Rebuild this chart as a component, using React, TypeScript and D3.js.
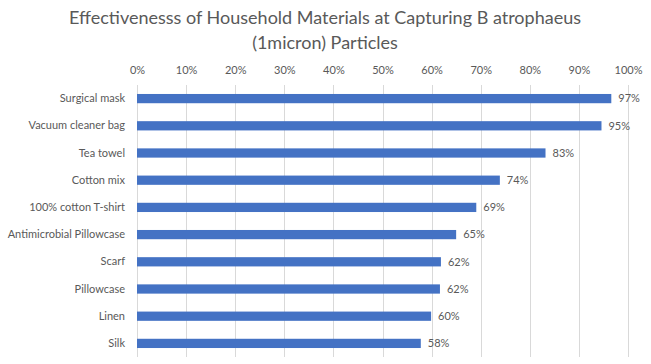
import { useEffect, useRef } from 'react';
import * as d3 from 'd3';

// Chart data (percent captured)
const materials = [
    'Surgical mask',
    'Vacuum cleaner bag',
    'Tea towel',
    'Cotton mix',
    '100% cotton T-shirt',
    'Antimicrobial Pillowcase',
    'Scarf',
    'Pillowcase',
    'Linen',
    'Silk',
];
const effectiveness = [96.6, 94.6, 83.2, 73.9, 69.1, 65.0, 61.9, 61.7, 59.9, 57.8];
const tickValues = [0, 10, 20, 30, 40, 50, 60, 70, 80, 90, 100];
const titleLines = [
    'Effectivenesss of Household Materials at Capturing B atrophaeus',
    '(1micron) Particles',
];

const WIDTH = 651;
const HEIGHT = 364;
const FONT = 'Lato, "Noto Sans", sans-serif';

interface Row {
    name: string;
    value: number;
}

export default function App() {
    const ref = useRef<HTMLDivElement>(null);

    useEffect(() => {
        if (!ref.current) return;
        ref.current.innerHTML = '';

        const data: Row[] = materials.map((name, i) => ({ name, value: effectiveness[i] }));

        const margin = { top: 85, right: 23, bottom: 7, left: 137 };

        const x = d3.scaleLinear()
            .domain([0, 100])
            .range([margin.left, WIDTH - margin.right]);

        const y = d3.scaleBand<string>()
            .domain(materials)
            .range([margin.top, HEIGHT - margin.bottom])
            .paddingInner(0.66)
            .paddingOuter(0.33);

        const svg = d3.create('svg')
            .attr('width', WIDTH)
            .attr('height', HEIGHT)
            .attr('viewBox', `0 0 ${WIDTH} ${HEIGHT}`)
            .style('display', 'block')
            .style('background', '#fff')
            .style('font-family', FONT);

        // Title
        svg.append('g')
            .attr('fill', '#595959')
            .attr('text-anchor', 'middle')
            .style('font-size', '18px')
            .selectAll('text')
            .data(titleLines)
            .join('text')
            .attr('x', 325)
            .attr('y', (_, i) => 24 + i * 25)
            .text(d => d);

        // Gridlines
        svg.append('g')
            .attr('stroke', '#d9d9d9')
            .attr('stroke-width', 1)
            .selectAll('line')
            .data(tickValues)
            .join('line')
            .attr('x1', d => Math.round(x(d)) + 0.5)
            .attr('x2', d => Math.round(x(d)) + 0.5)
            .attr('y1', margin.top)
            .attr('y2', HEIGHT - margin.bottom);

        // Top axis tick labels
        const axis = svg.append('g')
            .attr('transform', `translate(0,${margin.top})`)
            .call(d3.axisTop(x).tickValues(tickValues).tickSize(0).tickPadding(11)
                .tickFormat(d => `${d}%`));
        axis.select('.domain').remove();
        axis.selectAll('text')
            .attr('fill', '#595959')
            .style('font-size', '11px')
            .style('font-family', FONT);

        // Category labels
        const yAxis = svg.append('g')
            .attr('transform', `translate(${margin.left},0)`)
            .call(d3.axisLeft(y).tickSize(0).tickPadding(12));
        yAxis.select('.domain').remove();
        yAxis.selectAll('text')
            .attr('fill', '#595959')
            .style('font-size', '11px')
            .style('font-family', FONT);

        // Bars
        svg.append('g')
            .attr('fill', '#4472C4')
            .selectAll('rect')
            .data(data)
            .join('rect')
            .attr('x', x(0))
            .attr('y', d => y(d.name)!)
            .attr('width', d => x(d.value) - x(0))
            .attr('height', y.bandwidth());

        // Value labels
        svg.append('g')
            .attr('fill', '#595959')
            .style('font-size', '11px')
            .selectAll('text')
            .data(data)
            .join('text')
            .attr('x', d => x(d.value) + 7)
            .attr('y', d => y(d.name)! + y.bandwidth() / 2)
            .attr('dy', '0.35em')
            .text(d => `${Math.round(d.value)}%`);

        ref.current.appendChild(svg.node()!);
    }, []);

    return <div ref={ref} style={{ position: 'absolute', left: 0, top: 0 }} />;
}
